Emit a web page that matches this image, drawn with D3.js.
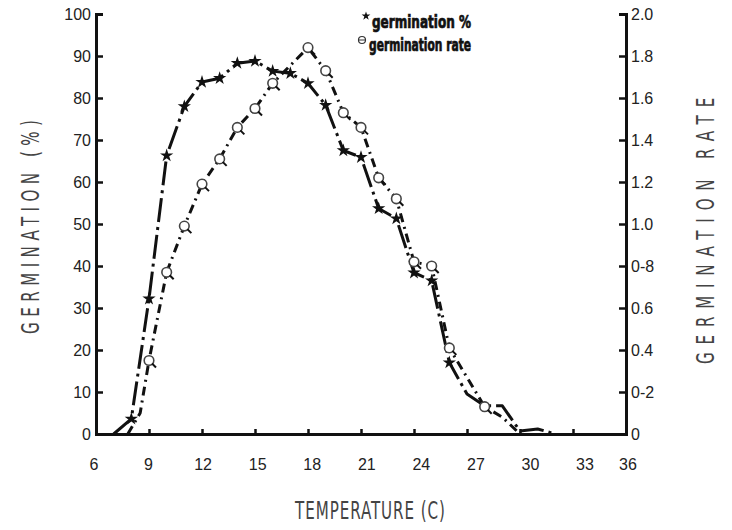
<!DOCTYPE html>
<html><head><meta charset="utf-8">
<script src="https://cdn.jsdelivr.net/npm/d3@7"></script>
<style>body{margin:0;background:#fff}svg{display:block}</style>
</head><body>
<svg id="c" width="732" height="530"></svg>
<script>
// ---- data ----
const pctTemps  = [7, 8, 9, 10, 11, 12, 13, 14, 15, 16, 17, 18, 19, 20, 21, 22, 23, 24, 25, 26, 27, 28, 29, 30, 31, 32];
const pctValues = [0, 3.6, 32.2, 66.3, 78, 83.8, 84.7, 88.3, 88.8, 86.4, 85.9, 83.5, 78.3, 67.5, 65.9, 53.7, 51.3, 38.4, 36.5, 17, 9.5, 6.7, 6.7, 0.7, 1.2, 0];
const pctMarked = [8, 9, 10, 11, 12, 13, 14, 15, 16, 17, 18, 19, 20, 21, 22, 23, 24, 25, 26];
const rateTemps  = [7.8, 8.5, 9, 10, 11, 12, 13, 14, 15, 16, 18, 19, 20, 21, 22, 23, 24, 25, 26, 28, 29, 30];
const rateValues = [0, 0.1, 0.35, 0.77, 0.99, 1.19, 1.31, 1.46, 1.55, 1.67, 1.84, 1.73, 1.53, 1.46, 1.22, 1.12, 0.82, 0.80, 0.41, 0.13, 0.08, 0];
const rateMarked = [9, 10, 11, 12, 13, 14, 15, 16, 18, 19, 20, 21, 22, 23, 24, 25, 26, 28];
const xTicks = [6, 9, 12, 15, 18, 21, 24, 27, 30, 33, 36];
const yLeftTicks = [0, 10, 20, 30, 40, 50, 60, 70, 80, 90, 100];
const yRightTicks = [0, 0.2, 0.4, 0.6, 0.8, 1.0, 1.2, 1.4, 1.6, 1.8, 2.0];
const yRightLabels = ["0", "0-2", "0.4", "0.6", "0-8", "1.0", "1.2", "1.4", "1.6", "1.8", "2.0"];

// ---- scales ----
const svg = d3.select("#c");
const x = d3.scaleLinear().domain([6, 36]).range([96, 626]);
const xLabel = d3.scaleLinear().domain([6, 33]).range([94, 585]);
const yL = d3.scaleLinear().domain([0, 100]).range([434, 14]);
const yR = d3.scaleLinear().domain([0, 2]).range([434, 14]);
const ink = "#111";

// ---- axes ----
const gL = svg.append("g").attr("transform", "translate(96,0)")
  .call(d3.axisRight(yL).tickValues(yLeftTicks).tickSize(7).tickFormat(""));
const gR = svg.append("g").attr("transform", "translate(626,0)")
  .call(d3.axisLeft(yR).tickValues(yRightTicks).tickSize(7).tickFormat(""));
const gB = svg.append("g").attr("transform", "translate(0,434)")
  .call(d3.axisTop(x).tickValues(xTicks.slice(1, -1)).tickSize(5).tickFormat(""));
[gL, gR, gB].forEach(g => {
  g.select(".domain").attr("stroke", ink).attr("stroke-width", 3);
  g.selectAll(".tick line").attr("stroke", ink).attr("stroke-width", 2.5);
});

const tickFont = "'Liberation Sans', Arial, sans-serif";
svg.append("g").selectAll("text").data(yLeftTicks).join("text")
  .attr("x", 91).attr("y", d => yL(d)).attr("dy", "0.36em")
  .attr("text-anchor", "end").attr("font-family", tickFont).attr("font-size", 16)
  .attr("fill", "#222").text(d => d);
svg.append("g").selectAll("text").data(yRightTicks).join("text")
  .attr("x", 631).attr("y", d => yR(d)).attr("dy", "0.36em")
  .attr("text-anchor", "start").attr("font-family", tickFont).attr("font-size", 16)
  .attr("fill", "#222").text((d, i) => yRightLabels[i]);
svg.append("g").selectAll("text").data(xTicks).join("text")
  .attr("x", d => d <= 33 ? xLabel(d) : x(d) + 2).attr("y", 464).attr("dy", "0.36em")
  .attr("text-anchor", "middle").attr("font-family", tickFont).attr("font-size", 16)
  .attr("fill", "#222").text(d => d);

// ---- axis titles ----
const titleFont = "'DejaVu Sans Condensed', sans-serif";
const sx = 0.7;
function fitTitle(sel, target, str) {
  sel.text(str);
  const n = str.length;
  const w = sel.node().getComputedTextLength();
  sel.attr("letter-spacing", Math.max(0, (target - w) / (n - 1)));
  const w2 = sel.node().getComputedTextLength();
  sel.attr("dx", (w2 - target) / 2);
}
const tL = svg.append("text").attr("transform", `translate(39,227) rotate(-90) scale(${sx},1)`)
  .attr("text-anchor", "middle").attr("font-family", titleFont).attr("font-size", 24)
  .attr("fill", "#444");
fitTitle(tL, 214 / sx, "GERMINATION (%)");
const tR = svg.append("text").attr("transform", `translate(714,227) rotate(-90) scale(${sx},1)`)
  .attr("text-anchor", "middle").attr("font-family", titleFont).attr("font-size", 24)
  .attr("fill", "#444");
fitTitle(tR, 274 / sx, "GERMINATION  RATE");
const tB = svg.append("text").attr("transform", `translate(370,519) scale(${sx},1)`)
  .attr("text-anchor", "middle").attr("font-family", titleFont).attr("font-size", 24)
  .attr("fill", "#444");
fitTitle(tB, 150 / sx, "TEMPERATURE (C)");

// ---- lines ----
const pctData = pctTemps.map((t, i) => ({t, v: pctValues[i]}));
const rateData = rateTemps.map((t, i) => ({t, v: rateValues[i]}));
svg.append("path").datum(pctData)
  .attr("d", d3.line().x(d => x(d.t)).y(d => yL(d.v)))
  .attr("fill", "none").attr("stroke", ink).attr("stroke-width", 3)
  .attr("stroke-dasharray", "24,5,3,5").attr("stroke-linejoin", "round");
svg.append("path").datum(rateData)
  .attr("d", d3.line().x(d => x(d.t)).y(d => yR(d.v)))
  .attr("fill", "none").attr("stroke", ink).attr("stroke-width", 3)
  .attr("stroke-dasharray", "9,5,2,5").attr("stroke-linejoin", "round");

// ---- markers ----
svg.append("g").selectAll("path").data(pctData.filter(d => pctMarked.includes(d.t))).join("path")
  .attr("transform", d => `translate(${x(d.t)},${yL(d.v)})`)
  .attr("d", d3.symbol(d3.symbolStar).size(55)).attr("fill", ink);
const rm = svg.append("g").selectAll("g").data(rateData.filter(d => rateMarked.includes(d.t))).join("g")
  .attr("transform", d => `translate(${x(d.t)},${yR(d.v)})`);
rm.append("circle").attr("r", 4.8).attr("fill", "#fff").attr("stroke", "#444").attr("stroke-width", 1.6);
rm.append("line").attr("x1", 3).attr("y1", 3).attr("x2", 7).attr("y2", 7).attr("stroke", ink).attr("stroke-width", 2);

// ---- legend ----
const legFont = "'DejaVu Sans Condensed', sans-serif";
svg.append("path").attr("transform", "translate(366,16)")
  .attr("d", d3.symbol(d3.symbolStar).size(24)).attr("fill", ink);
svg.append("text").attr("x", 372).attr("y", 28).attr("font-family", legFont)
  .attr("font-weight", "bold").attr("font-size", 17).attr("fill", ink)
  .attr("stroke", ink).attr("stroke-width", 0.7)
  .attr("textLength", 99).attr("lengthAdjust", "spacingAndGlyphs").text("germination  %");
svg.append("circle").attr("cx", 362).attr("cy", 40).attr("r", 3.5)
  .attr("fill", "none").attr("stroke", "#333").attr("stroke-width", 1.2);
svg.append("line").attr("x1", 358.5).attr("x2", 365.5).attr("y1", 40).attr("y2", 40)
  .attr("stroke", "#333").attr("stroke-width", 1);
svg.append("text").attr("x", 369).attr("y", 51).attr("font-family", legFont)
  .attr("font-weight", "bold").attr("font-size", 17).attr("fill", ink)
  .attr("stroke", ink).attr("stroke-width", 0.7)
  .attr("textLength", 102).attr("lengthAdjust", "spacingAndGlyphs").text("germination  rate");
</script>
</body></html>
